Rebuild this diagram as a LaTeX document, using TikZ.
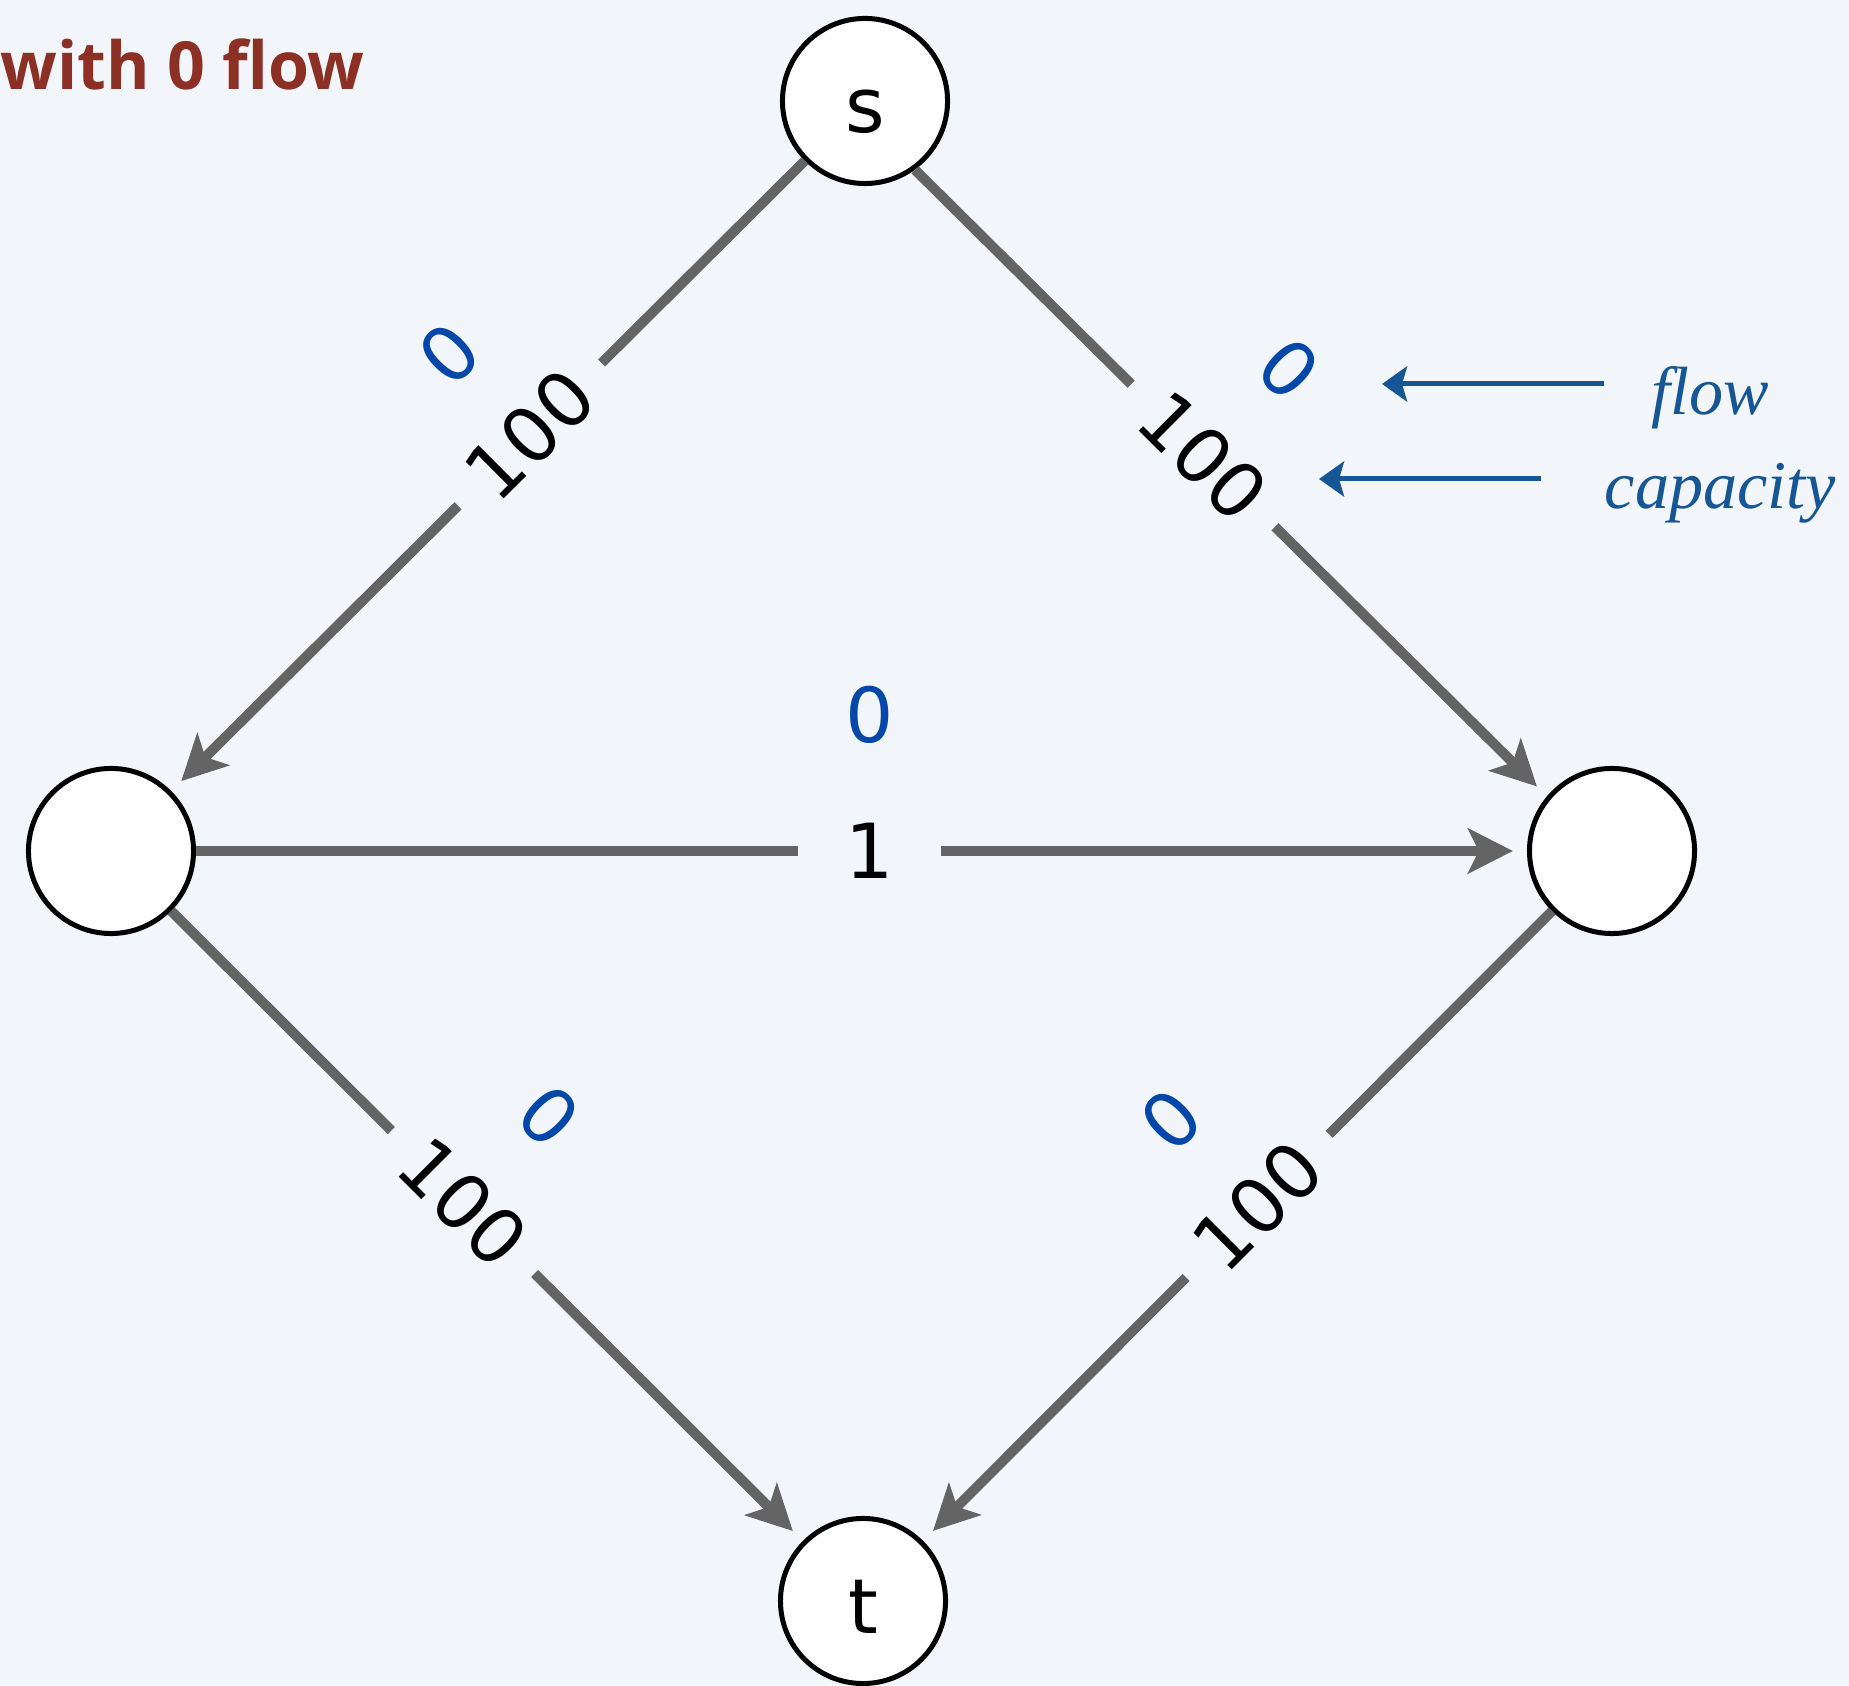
\documentclass[tikz,border=0pt]{standalone}
\usepackage{fontspec}
\setmainfont{DejaVu Sans}
\newfontfamily\titlefont{Open Sans}
\newfontfamily\legendfont{Liberation Serif}
\usetikzlibrary{arrows.meta}
\definecolor{bgcol}{RGB}{242,245,249}
\definecolor{edgegray}{RGB}{100,100,100}
\definecolor{flowblue}{RGB}{3,72,168}
\definecolor{legblue}{RGB}{22,86,148}
\definecolor{titlered}{RGB}{140,48,38}
\newcommand{\lblfont}{\fontsize{21.6}{24}\selectfont}

\begin{document}
\begin{tikzpicture}[x=0.01cm,y=0.01cm]
  \tikzset{vert/.style={circle,draw,line width=0.05cm,fill=white,minimum size=1.65cm,inner sep=0pt,text height=0.64cm,text depth=0pt,font=\lblfont},
    edg/.style={line width=0.1cm,draw=edgegray,-{Stealth[length=0.45cm,width=0.45cm,inset=0.11cm]},shorten >=0.14cm},
    capac/.style={sloped,fill=bgcol,inner sep=0pt,minimum width=2.02cm,minimum height=0.5cm,font=\lblfont},
    flw/.style={sloped,above=#1,text=flowblue,inner sep=0pt,font=\lblfont},
    legtxt/.style={anchor=base west,inner ysep=0pt,text=legblue,font=\legendfont\itshape\fontsize{19.4}{22}\selectfont},
    legarr/.style={line width=0.05cm,draw=legblue,-{Stealth[length=0.25cm,width=0.35cm,inset=0.05cm]}}}
  \fill[bgcol] (0,0) rectangle (1849,1685);
  \useasboundingbox (0,0) rectangle (1849,1685);

  \node[anchor=base west,inner sep=0pt,text=titlered,font=\titlefont\bfseries\fontsize{18.85}{22}\selectfont] (title) at (0,1595) {with 0 flow};

  \node[vert] (s) at (865,1584) {s};
  \node[vert] (u) at (111,834) {};
  \node[vert] (v) at (1612,834) {};
  \node[vert] (t) at (863,84) {t};

  \draw[edg] (s) -- node[capac,pos=.434]{100} node[flw=0.80cm,pos=.434]{0} (u);
  \draw[edg] (s.-54) -- node[capac,pos=.456]{100} node[flw=0.88cm,pos=.456]{0} (v.140);
  \draw[edg] (u) -- node[capac,pos=.506,minimum width=1.43cm]{1} node[flw=1.02cm,pos=.506]{0} (v);
  \draw[edg] (u) -- node[capac,pos=.462]{100} node[flw=0.88cm,pos=.462]{0} (t);
  \draw[edg] (v) -- node[capac,pos=.468]{100} node[flw=0.88cm,pos=.468]{0} (t);

  % legend
  \node[legtxt,inner xsep=0.47cm] (lflow) at (1604,1270) {flow};
  \node[legtxt,inner xsep=0.63cm] (lcap) at (1541,1176) {capacity};
  \coordinate (aflow) at (1382,1301);
  \coordinate (acap) at (1319,1206);
  \draw[legarr] (lflow.west |- aflow) -- (aflow);
  \draw[legarr] (lcap.west |- acap) -- (acap);
\end{tikzpicture}
\end{document}
